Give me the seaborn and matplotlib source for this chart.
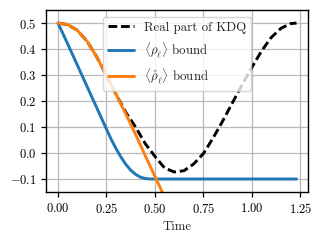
import numpy as np
import pandas as pd
import seaborn as sns
import matplotlib.pyplot as plt

# Values
time = [0.00, 0.05, 0.10, 0.15, 0.20, 0.25, 0.30, 0.35, 0.40, 0.45, 0.50,
        0.55, 0.60, 0.65, 0.70, 0.75, 0.80, 0.85, 0.90, 0.95, 1.00,
        1.05, 1.10, 1.15, 1.20, 1.23]
kdq_real = [0.500, 0.494, 0.472, 0.430, 0.370, 0.298, 0.225, 0.156, 0.100, 0.036, -0.013,
            -0.058, -0.073, -0.068, -0.042, -0.002, 0.058, 0.124, 0.194, 0.264, 0.330,
            0.393, 0.445, 0.480, 0.498, 0.500]

time_rho = [0.00, 0.05, 0.10, 0.15, 0.20, 0.25, 0.275, 0.30, 0.325, 0.35, 0.375,
            0.40, 0.425, 0.45, 0.475, 0.50, 0.75, 1.00, 1.23]
rho_bound = [0.500, 0.420, 0.338, 0.256, 0.174, 0.092, 0.052, 0.016, -0.016, -0.044, -0.066,
             -0.082, -0.093, -0.098, -0.100, -0.100, -0.100, -0.100, -0.100]

time_hat = [0.00, 0.05, 0.10, 0.15, 0.20, 0.25, 0.30, 0.35, 0.40, 0.45, 0.50, 0.55]
rho_hat_bound = [0.500, 0.494, 0.472, 0.430, 0.370, 0.298, 0.225, 0.150, 0.072, -0.010, -0.090, -0.170]

df = pd.DataFrame({"Time": time, "kdq": kdq_real})
df_rho = pd.DataFrame({"Time": time_rho, "rho": rho_bound})
df_hat = pd.DataFrame({"Time": time_hat, "rho_hat": rho_hat_bound})

sns.set_theme(style="ticks", rc={"axes.grid": True})
plt.rcParams["font.family"] = ["cmr10", "DejaVu Serif"]
plt.rcParams["mathtext.fontset"] = "cm"
plt.rcParams["axes.formatter.use_mathtext"] = True
plt.rcParams["font.size"] = 9.3
plt.rcParams["axes.labelsize"] = 9.3
plt.rcParams["xtick.labelsize"] = 9
plt.rcParams["ytick.labelsize"] = 9
plt.rcParams["legend.fontsize"] = 9.3
plt.rcParams["grid.color"] = "#b8b8b8"
plt.rcParams["grid.linewidth"] = 0.9
plt.rcParams["axes.edgecolor"] = "black"
plt.rcParams["xtick.color"] = "black"
plt.rcParams["ytick.color"] = "black"
plt.rcParams["xtick.major.size"] = 3.5
plt.rcParams["ytick.major.size"] = 3.5
plt.rcParams["xtick.major.width"] = 0.9
plt.rcParams["ytick.major.width"] = 0.9

fig = plt.figure(figsize=(3.22, 2.40), dpi=100)
ax = fig.add_axes([0.143, 0.2, 0.814, 0.758])

sns.lineplot(data=df, x="Time", y="kdq", ax=ax, color="black", lw=2.1,
             linestyle=(0, (3.0, 1.3)), label="Real part of KDQ")
sns.lineplot(data=df_rho, x="Time", y="rho", ax=ax, color="#1f77b4", lw=2.1,
             label=r"$\langle \rho_\ell \rangle$ bound")
sns.lineplot(data=df_hat, x="Time", y="rho_hat", ax=ax, color="#ff7f0e", lw=2.1,
             label=r"$\langle \hat{\rho}_\ell \rangle$ bound")

ax.set_xlim(-0.0615, 1.29)
ax.set_ylim(-0.15, 0.55)
ax.set_xticks([0.0, 0.25, 0.5, 0.75, 1.0, 1.25])
ax.set_yticks([-0.1, 0.0, 0.1, 0.2, 0.3, 0.4, 0.5])
ax.xaxis.set_major_formatter(plt.FormatStrFormatter("$%.2f$"))
ax.yaxis.set_major_formatter(plt.FuncFormatter(lambda v, p: "$%.1f$" % v))
ax.set_xlabel("Time")
ax.set_ylabel("")
for s in ax.spines.values():
    s.set_visible(True)
    s.set_linewidth(1.0)

ax.legend(loc="upper center", framealpha=0.8, edgecolor="#cccccc", fancybox=True)

plt.savefig("out.png", dpi=100)
